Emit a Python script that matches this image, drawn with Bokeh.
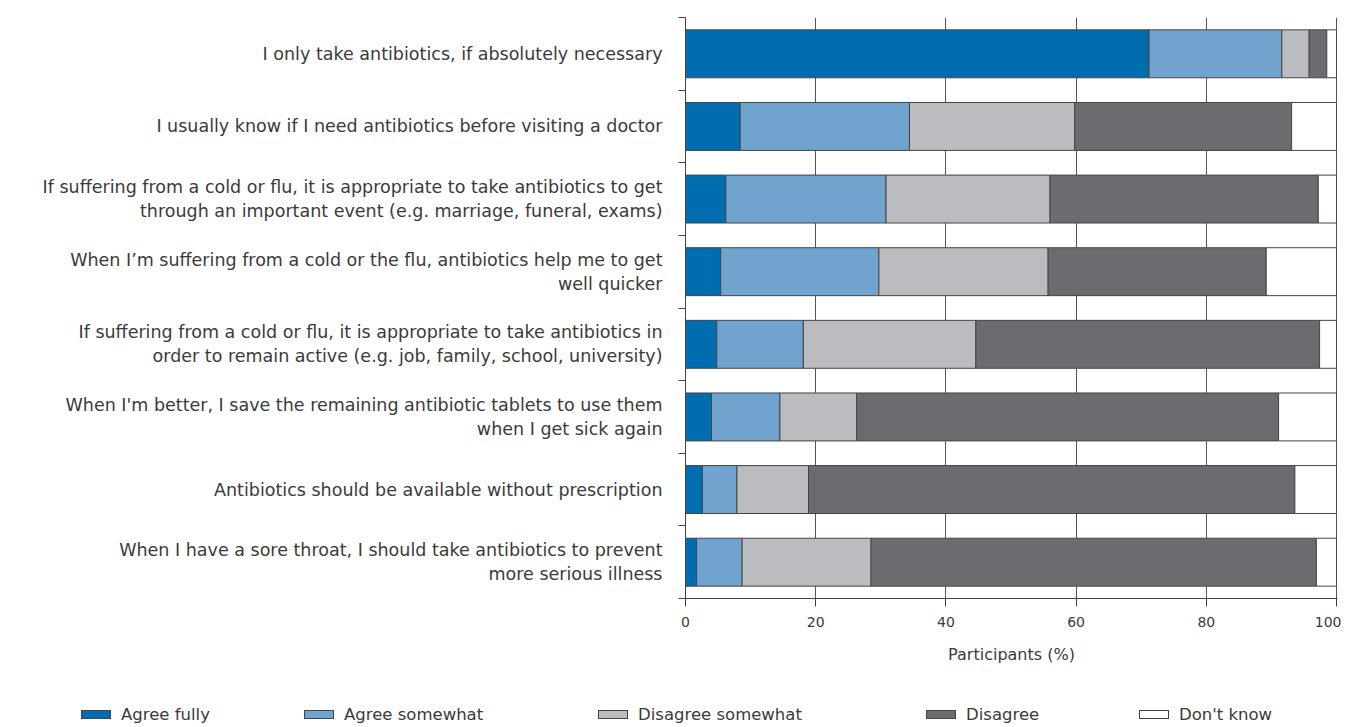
from bokeh.plotting import figure
from bokeh.layouts import column
from bokeh.models import ColumnDataSource, Range1d, FixedTicker, Div
from bokeh.embed import file_html
from bokeh.resources import INLINE

statements = [
    "I only take antibiotics, if absolutely necessary",
    "I usually know if I need antibiotics before visiting a doctor",
    "If suffering from a cold or flu, it is appropriate to take antibiotics to get\nthrough an important event (e.g. marriage, funeral, exams)",
    "When I\u2019m suffering from a cold or the flu, antibiotics help me to get\nwell quicker",
    "If suffering from a cold or flu, it is appropriate to take antibiotics in\norder to remain active (e.g. job, family, school, university)",
    "When I'm better, I save the remaining antibiotic tablets to use them\nwhen I get sick again",
    "Antibiotics should be available without prescription",
    "When I have a sore throat, I should take antibiotics to prevent\nmore serious illness",
]

responses = ["Agree fully", "Agree somewhat", "Disagree somewhat", "Disagree", "Don't know"]
agree_fully       = [71.2, 8.4, 6.2, 5.4, 4.8, 4.0, 2.6, 1.7]
agree_somewhat    = [20.4, 26.0, 24.6, 24.3, 13.3, 10.5, 5.3, 7.0]
disagree_somewhat = [4.2, 25.4, 25.2, 26.0, 26.5, 11.8, 11.0, 19.8]
disagree          = [2.7, 33.3, 41.2, 33.5, 52.8, 64.8, 74.7, 68.4]
dont_know         = [1.5, 6.9, 2.8, 10.8, 2.6, 8.9, 6.4, 3.1]
x_ticks = [0, 20, 40, 60, 80, 100]

colors = ["#006db0", "#70a4cf", "#bbbcc0", "#6b6c70", "#ffffff"]
keys = ["af", "as", "ds", "d", "dk"]

# legend layout (pixel positions of each legend entry's swatch, left edge)
legend_left = [81, 304, 598, 926, 1139]

n = len(statements)
ypos = [n - 0.5 - i for i in range(n)]
source = ColumnDataSource(dict(y=ypos, af=agree_fully, **{"as": agree_somewhat},
                               ds=disagree_somewhat, d=disagree, dk=dont_know))

FONT = "DejaVu Sans"
TXT = "#3a3a3a"
EDGE = "#444444"
W = 1341
TOP_H = 17 + 581 + 72

p = figure(frame_width=652, frame_height=581, min_border_left=685, min_border_right=4,
           min_border_top=17, min_border_bottom=72,
           x_range=Range1d(0, 100.15), y_range=Range1d(0, n),
           output_backend="svg", toolbar_location=None)

rs = p.hbar_stack(keys, y="y", height=0.66, color=colors, source=source,
                  line_color=EDGE, line_width=1)

p.xaxis.ticker = FixedTicker(ticks=x_ticks)
p.xaxis.axis_label = "Participants (%)"
p.xaxis.axis_label_text_font = FONT
p.xaxis.axis_label_text_font_style = "normal"
p.xaxis.axis_label_text_font_size = "16px"
p.xaxis.axis_label_text_color = TXT
p.xaxis.axis_label_standoff = 15
p.xaxis.major_label_text_font = FONT
p.xaxis.major_label_text_font_size = "14px"
p.xaxis.major_label_text_color = TXT
p.xaxis.major_tick_out = 8
p.xaxis.major_tick_in = 0
p.xaxis.minor_tick_out = 0
p.xaxis.axis_line_color = EDGE
p.xaxis.major_tick_line_color = EDGE
p.xaxis.major_label_standoff = 10

p.yaxis.ticker = FixedTicker(ticks=ypos, minor_ticks=list(range(n + 1)))
p.yaxis.major_label_overrides = {y: s for y, s in zip(ypos, statements)}
p.yaxis.major_label_text_font = FONT
p.yaxis.major_label_text_font_size = "17.5px"
p.yaxis.major_label_text_color = TXT
p.yaxis.major_label_text_align = "right"
p.yaxis.major_tick_out = 0
p.yaxis.major_tick_in = 0
p.yaxis.minor_tick_out = 7
p.yaxis.minor_tick_in = 0
p.yaxis.minor_tick_line_color = EDGE
p.yaxis.axis_line_color = EDGE
p.yaxis.major_label_standoff = 16

p.xgrid.ticker = FixedTicker(ticks=x_ticks)
p.xgrid.grid_line_color = "#555555"
p.xgrid.grid_line_width = 1
p.ygrid.grid_line_color = None
p.outline_line_color = None

# legend strip below the chart, as real HTML text with colour swatches
LEG_H = 55
center = 715 - TOP_H
parts = []
for lab, col, left in zip(responses, colors, legend_left):
    parts.append(
        f'<span style="position:absolute;left:{left}px;top:{center - 5.5}px;width:30px;height:9px;'
        f'background:{col};border:1px solid {EDGE};"></span>'
        f'<span style="position:absolute;left:{left + 40}px;top:{center - 10}px;line-height:20px;'
        f'font-family:\'{FONT}\';font-size:16.5px;color:{TXT};white-space:nowrap;">{lab}</span>'
    )
html = f'<div style="position:relative;width:{W}px;height:{LEG_H}px;">' + "".join(parts) + "</div>"
leg = Div(text=html, width=W, height=LEG_H, margin=0)

open("out.html", "w").write(file_html(column(p, leg, spacing=0), INLINE))
